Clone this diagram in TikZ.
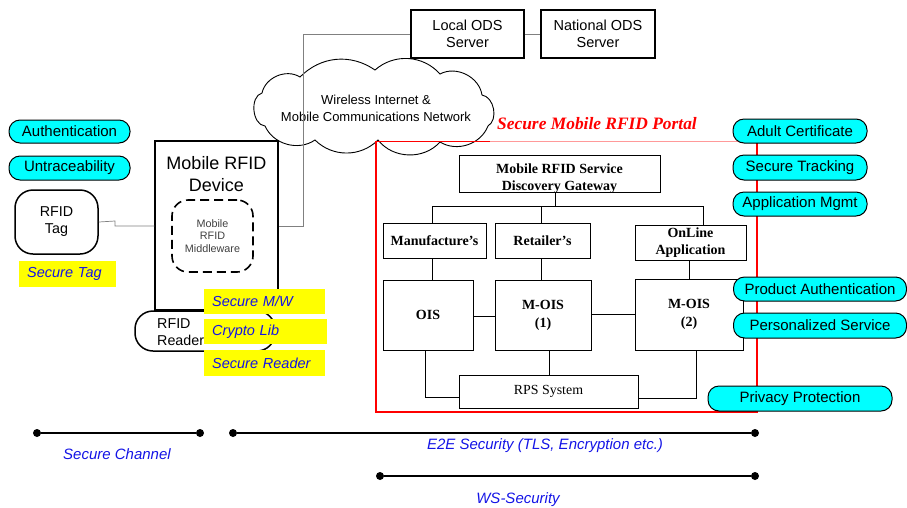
\documentclass[tikz,border=0pt]{standalone}
\usepackage{fontspec}
\setmainfont{Liberation Serif}
\setsansfont{Liberation Sans}
\definecolor{pillcyan}{RGB}{0,255,255}
\definecolor{hiyellow}{RGB}{255,255,0}
\definecolor{lblblue}{RGB}{20,20,230}
\definecolor{portalred}{RGB}{255,0,0}
\begin{document}
\begin{tikzpicture}[x=1pt,y=-1pt,
  box/.style={draw,line width=1.2pt,inner sep=0pt,align=center,font=\sffamily\fontsize{14.5}{17}\selectfont},
  sbox/.style={draw,line width=1pt,inner sep=0pt,align=center,font=\bfseries\fontsize{14}{17}\selectfont},
  pill/.style={draw,line width=1pt,fill=pillcyan,rounded corners=11pt,inner sep=0pt,font=\sffamily\fontsize{15}{17}\selectfont},
  hl/.style={fill=hiyellow,inner xsep=8pt,inner ysep=0pt,align=left,font=\sffamily\itshape\fontsize{14.5}{17}\selectfont,text=lblblue},
  thinline/.style={draw=gray,line width=0.7pt},
  link/.style={draw,line width=0.9pt},
  secline/.style={line width=2pt},
  dot/.style={circle,fill,inner sep=0pt,minimum size=8pt},
  blbl/.style={text=lblblue,font=\sffamily\itshape\fontsize{15}{17}\selectfont}
]
\useasboundingbox (0,0) rectangle (907,507);

% servers and cloud
\node[box,minimum width=113,minimum height=48] (lods) at (467.5,34) {Local ODS\\Server};
\node[box,minimum width=114,minimum height=48] (nods) at (598,34) {National ODS\\Server};
\draw[line width=0.9pt] (262,93) to[bend left=55] (300,77) to[bend left=40] (375,70)
  to[bend left=45] (440,74) to[bend left=55] (482,95) to[bend left=70] (488,126)
  to[bend left=50] (440,142) to[bend left=50] (378,140) to[bend left=45] (315,140)
  to[bend left=50] (265,126) to[bend left=80] cycle;
\node[align=center,inner sep=0pt,font=\sffamily\fontsize{13}{17}\selectfont] (cloud) at (376,108) {Wireless Internet \&\\Mobile Communications Network};

% left pills
\node[pill,minimum width=121,minimum height=23] (auth) at (69.5,131.5) {Authentication};
\node[pill,minimum width=121,minimum height=24] (untr) at (69.5,168) {Untraceability};

% device
\node[draw,line width=1.5pt,minimum width=123,minimum height=169,inner sep=0pt] (device) at (216.5,225.5) {};
\node[align=center,font=\sffamily\fontsize{18}{22}\selectfont,inner sep=0pt] (devlbl) at (216.5,174) {Mobile RFID\\Device};
\node[draw,dashed,dash pattern=on 9pt off 5pt,line width=1.6pt,rounded corners=16pt,minimum width=81,minimum height=72,inner sep=0pt,align=center,font=\sffamily\fontsize{10.8}{12.5}\selectfont,text=black!75] (mw) at (212.5,236) {Mobile\\RFID\\Middleware};
\node[draw,line width=1.5pt,rounded corners=18pt,minimum width=83,minimum height=64,inner sep=0pt,align=center,font=\sffamily\fontsize{14.3}{17}\selectfont] (tag) at (56.5,222) {RFID\\Tag};
\node[hl,minimum width=97,minimum height=26,text width=81,anchor=west] (sectag) at (19,274) {Secure Tag};

% reader
\node[draw,line width=1.5pt,fill=white,rounded corners=18pt,minimum width=140,minimum height=40,inner sep=0pt] (reader) at (205,331) {};
\node[anchor=west,align=left,inner sep=0pt,font=\sffamily\fontsize{14.3}{17}\selectfont] (readerlbl) at (157,332) {RFID\\Reader};

\node[hl,minimum height=25,text width=105,anchor=west] (smw) at (204,301.5) {Secure M/W};
\node[hl,minimum height=25,text width=107,anchor=west] (crypto) at (204,331.5) {Crypto Lib};
\node[hl,minimum height=26,text width=105,anchor=west] (sreader) at (204,363) {Secure Reader};

% gray connectors
\draw[thinline] (tag.east) -- (115,221) -- (115,226) -- (device.west |- 0,226);
\draw[thinline] (device.east |- 0,226) -- (303,226) -- (303,34) -- (lods.west);
\draw[thinline] (lods.east) -- (nods.west);

% portal
\draw[portalred,line width=1.4pt] (490,141.5) -- (376,141.5) -- (376,412) -- (757,412) -- (757,141.5);
\draw[portalred!40,line width=1.4pt] (490,141.5) -- (757,141.5);
\node[text=portalred,font=\bfseries\itshape\fontsize{17.4}{20}\selectfont,inner sep=0pt] (portal) at (597,124) {Secure Mobile RFID Portal};

\node[sbox,minimum width=201,minimum height=37,
  label={[align=center,inner sep=0pt,font=\bfseries\fontsize{14}{17}\selectfont,yshift=-5pt]center:Mobile RFID Service\\Discovery Gateway}] (gw) at (559.5,173.5) {};
\node[sbox,minimum width=103,minimum height=35] (manu) at (434.5,240.5) {Manufacture's};
\node[sbox,minimum width=95,minimum height=35] (ret) at (542.5,240.5) {Retailer's};
\node[sbox,minimum width=111,minimum height=35] (onl) at (690.5,242.5) {OnLine\\Application};
\node[sbox,minimum width=90,minimum height=70] (ois) at (428,315) {OIS};
\node[sbox,minimum width=96,minimum height=70,font=\bfseries\fontsize{14}{18}\selectfont] (mois1) at (543,315) {M-OIS\\(1)};
\node[sbox,minimum width=108,minimum height=71,font=\bfseries\fontsize{14}{18}\selectfont] (mois2) at (689,314.5) {M-OIS\\(2)};
\node[sbox,minimum width=179,minimum height=33,font=\fontsize{13.9}{16}\selectfont] (rps) at (548.5,391.5) {RPS System};

\coordinate (gwj) at (555,206);
\draw[link] (gw.south -| gwj) -- (gwj);
\draw[link] (432,206) -- (703,206);
\draw[link] (432,206) -- (manu.north -| 432,0);
\draw[link] (541,206) -- (ret.north -| 541,0);
\draw[link] (703,206) -- (onl.north -| 703,0);
\draw[link] (manu.south -| 432,0) -- (ois.north -| 432,0);
\draw[link] (ret.south -| 541,0) -- (mois1.north -| 541,0);
\draw[link] (onl.south -| 689,0) -- (mois2.north -| 689,0);
\draw[link] (ois.east |- 0,316) -- (mois1.west |- 0,316);
\draw[link] (mois1.east |- 0,314) -- (mois2.west |- 0,314);
\draw[link] (mois1.south -| 549,0) -- (rps.north -| 549,0);
\draw[link] (ois.south -| 425,0) -- (425,397) -- (rps.west |- 0,397);
\draw[link] (mois2.south -| 696,0) -- (696,398) -- (rps.east |- 0,398);

% right pills
\node[pill,minimum width=134,minimum height=24] (adult) at (800,131) {Adult Certificate};
\node[pill,minimum width=134,minimum height=25] (track) at (800,167.5) {Secure Tracking};
\node[pill,minimum width=134,minimum height=24] (appm) at (800,204) {Application Mgmt};
\node[pill,minimum width=173,minimum height=24] (prod) at (820,289) {Product Authentication};
\node[pill,minimum width=173,minimum height=25] (pers) at (820,325.5) {Personalized Service};
\node[pill,minimum width=184,minimum height=25] (priv) at (800,398.5) {Privacy Protection};

% security spans
\node[dot] (sc1) at (37,433) {};
\node[dot] (sc2) at (200,433) {};
\node[dot] (e1) at (233,433) {};
\node[dot] (e2) at (755,433) {};
\node[dot] (w1) at (380,476) {};
\node[dot] (w2) at (755,476) {};
\draw[secline] (sc1) -- (sc2);
\draw[secline] (e1) -- (e2);
\draw[secline] (w1) -- (w2);
\node[blbl] (sclbl) at (117,454) {Secure Channel};
\node[blbl] (elbl) at (545,446) {E2E Security (TLS, Encryption etc.)};
\node[blbl] (wlbl) at (518,500) {WS-Security};
\end{tikzpicture}
\end{document}
